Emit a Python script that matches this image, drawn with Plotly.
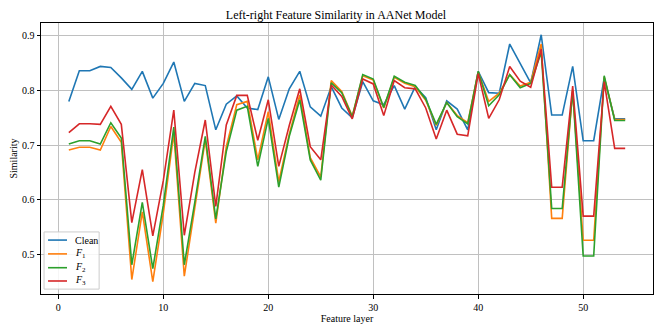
import plotly.graph_objects as go

layers = list(range(1, 55))

clean = [0.780, 0.836, 0.836, 0.844, 0.842, 0.823, 0.802, 0.835, 0.786, 0.813,
         0.852, 0.780, 0.813, 0.809, 0.728, 0.775, 0.790, 0.768, 0.765, 0.825,
         0.747, 0.803, 0.835, 0.770, 0.753, 0.807, 0.768, 0.750, 0.816, 0.781,
         0.774, 0.809, 0.766, 0.807, 0.787, 0.728, 0.781, 0.766, 0.728, 0.835,
         0.796, 0.795, 0.885, 0.850, 0.814, 0.902, 0.755, 0.755, 0.844, 0.708,
         0.708, 0.823, 0.748, 0.748]

f1 = [0.691, 0.696, 0.696, 0.691, 0.734, 0.705, 0.454, 0.578, 0.450, 0.575,
      0.722, 0.460, 0.585, 0.710, 0.557, 0.697, 0.774, 0.780, 0.673, 0.761,
      0.633, 0.720, 0.792, 0.677, 0.642, 0.818, 0.798, 0.753, 0.827, 0.819,
      0.768, 0.824, 0.813, 0.807, 0.782, 0.736, 0.778, 0.754, 0.741, 0.834,
      0.780, 0.795, 0.829, 0.808, 0.815, 0.885, 0.566, 0.566, 0.800, 0.526,
      0.526, 0.825, 0.747, 0.747]

f2 = [0.702, 0.708, 0.708, 0.702, 0.741, 0.713, 0.481, 0.595, 0.474, 0.590,
      0.733, 0.481, 0.595, 0.716, 0.565, 0.688, 0.764, 0.771, 0.661, 0.749,
      0.623, 0.716, 0.783, 0.673, 0.636, 0.814, 0.796, 0.752, 0.829, 0.821,
      0.769, 0.826, 0.815, 0.809, 0.784, 0.738, 0.778, 0.752, 0.739, 0.835,
      0.772, 0.792, 0.829, 0.805, 0.813, 0.870, 0.584, 0.584, 0.800, 0.497,
      0.497, 0.827, 0.745, 0.745]

f3 = [0.723, 0.739, 0.739, 0.738, 0.771, 0.738, 0.558, 0.655, 0.534, 0.635,
      0.764, 0.535, 0.650, 0.746, 0.588, 0.737, 0.791, 0.791, 0.709, 0.783,
      0.661, 0.736, 0.803, 0.697, 0.673, 0.810, 0.789, 0.748, 0.821, 0.812,
      0.754, 0.818, 0.805, 0.803, 0.768, 0.711, 0.764, 0.720, 0.717, 0.831,
      0.749, 0.783, 0.844, 0.817, 0.806, 0.876, 0.623, 0.623, 0.808, 0.570,
      0.570, 0.816, 0.694, 0.694]

series = [
    ("Clean", clean, "#1f77b4"),
    ("<i>F</i><sub>1</sub>", f1, "#ff7f0e"),
    ("<i>F</i><sub>2</sub>", f2, "#2ca02c"),
    ("<i>F</i><sub>3</sub>", f3, "#d62728"),
]

fig = go.Figure()
for name, vals, color in series:
    fig.add_trace(go.Scatter(x=layers, y=vals, name=name, mode="lines",
                             line=dict(color=color, width=1.6),
                             showlegend=False))

# compact matplotlib-style legend in the lower-left corner (plotly's own
# legend rows are too tall to match)
fig.add_shape(type="rect", xref="paper", yref="paper",
              x0=0.005, x1=0.095, y0=0.018, y1=0.229,
              fillcolor="rgba(255,255,255,0.85)",
              line=dict(color="#cccccc", width=1), layer="above")
row_y = [0.199, 0.148, 0.097, 0.048]
for (name, _, color), yy in zip(series, row_y):
    fig.add_shape(type="line", xref="paper", yref="paper",
                  x0=0.0115, x1=0.0425, y0=yy, y1=yy,
                  line=dict(color=color, width=1.6), layer="above")
    fig.add_annotation(text=name, xref="paper", yref="paper",
                       x=0.052, y=yy, xanchor="left", yanchor="middle",
                       showarrow=False, font=dict(size=10))

axis_style = dict(showline=True, linecolor="black", linewidth=1, mirror=True,
                  showgrid=True, gridcolor="#c0c0c0", gridwidth=0.8,
                  ticks="outside", ticklen=3.5, tickcolor="black",
                  zeroline=False, automargin=False,
                  tickfont=dict(size=10, color="black"))

# page body has an 8px margin, so the figure is sized/margined to compensate
fig.update_layout(
    width=656, height=324,
    margin=dict(l=33, r=11, t=15, b=38),
    plot_bgcolor="white", paper_bgcolor="white",
    font=dict(family="Liberation Serif, Times New Roman, serif", color="black"),
    title=dict(text="Left-right Feature Similarity in AANet Model",
               x=0.5, xanchor="center", y=0.978, yanchor="middle",
               font=dict(size=12)),
    xaxis=dict(range=[-1.65, 56.65], tickvals=[0, 10, 20, 30, 40, 50],
               title=dict(text="Feature layer", font=dict(size=10), standoff=1),
               **axis_style),
    yaxis=dict(range=[0.4275, 0.9235], tickvals=[0.5, 0.6, 0.7, 0.8, 0.9],
               tickformat=".1f",
               title=dict(text="Similarity", font=dict(size=10), standoff=4),
               **axis_style),
)

fig.write_html("out.html")
